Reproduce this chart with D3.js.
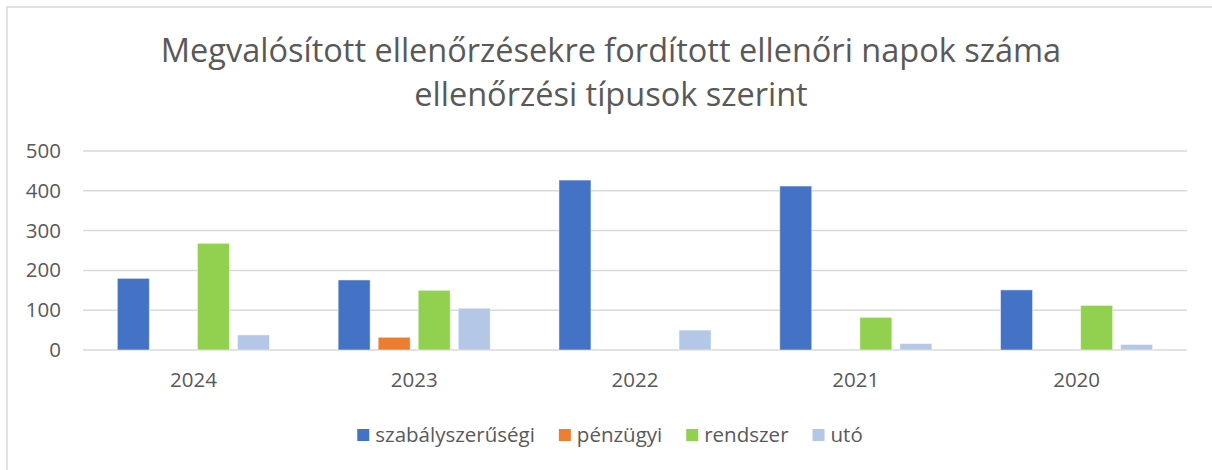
<!DOCTYPE html>
<html lang="hu">
<head>
<meta charset="utf-8">
<script src="https://cdn.jsdelivr.net/npm/d3@7"></script>
<style>
  html, body { margin: 0; padding: 0; background: #fff; }
  svg { display: block; font-family: "Open Sans", "Noto Sans", sans-serif; }
</style>
</head>
<body>
<svg id="chart" width="1212" height="470"></svg>
<script>
// Ellenőrzési napok típusonként, évenként
const years = ["2024", "2023", "2022", "2021", "2020"];
const seriesNames = ["szabályszerűségi", "pénzügyi", "rendszer", "utó"];
const szabalyszerusegi = [180, 176, 427, 412, 151];
const penzugyi = [0, 32, 0, 0, 0];
const rendszer = [268, 150, 0, 82, 112];
const uto = [38, 105, 50, 16, 14];
const yTicks = [0, 100, 200, 300, 400, 500];
const titleLines = [
  "Megvalósított ellenőrzésekre fordított ellenőri napok száma",
  "ellenőrzési típusok szerint"
];

const seriesValues = [szabalyszerusegi, penzugyi, rendszer, uto];
const colors = ["#4472C4", "#ED7D31", "#92D050", "#B4C7E7"];

const svg = d3.select("#chart");
const W = 1212, H = 470;
const margin = { left: 83, right: 25, top: 151, bottom: 120 };
const innerW = W - margin.left - margin.right;
const innerH = H - margin.top - margin.bottom;

// Chart area frame
svg.append("rect")
  .attr("x", 7).attr("y", 7)
  .attr("width", W + 10).attr("height", H + 10)
  .attr("fill", "#fff")
  .attr("stroke", "#d9d9d9").attr("stroke-width", 1.5);

// Title
const title = svg.append("g").attr("fill", "#595959")
  .attr("font-size", 32.5).attr("text-anchor", "middle");
titleLines.forEach((line, i) => {
  title.append("text")
    .attr("x", 611).attr("y", 62 + i * 44)
    .text(line);
});

const x0 = d3.scaleBand()
  .domain(years)
  .range([margin.left, margin.left + innerW])
  .paddingInner(0.311)
  .paddingOuter(0.1555);

const x1 = d3.scaleBand()
  .domain(seriesNames)
  .range([0, x0.bandwidth()])
  .paddingInner(0.2);

const y = d3.scaleLinear()
  .domain([0, 500])
  .range([margin.top + innerH, margin.top]);

// Gridlines
svg.append("g")
  .selectAll("line")
  .data(yTicks)
  .join("line")
  .attr("x1", margin.left).attr("x2", margin.left + innerW)
  .attr("y1", d => y(d)).attr("y2", d => y(d))
  .attr("stroke", "#d9d9d9").attr("stroke-width", 1.5);

// Y axis labels
const yAxis = d3.axisLeft(y).tickValues(yTicks).tickSize(0).tickPadding(0);
svg.append("g")
  .attr("transform", `translate(${margin.left - 22},0)`)
  .call(yAxis)
  .call(g => g.select(".domain").remove())
  .call(g => g.selectAll("text")
    .attr("fill", "#595959")
    .attr("font-size", 20.5)
    .attr("font-family", "\"Open Sans\", sans-serif"));

// Bars
const groups = svg.append("g")
  .selectAll("g")
  .data(years.map((yr, i) => ({
    year: yr,
    values: seriesNames.map((s, k) => ({ series: s, k, value: seriesValues[k][i] }))
  })))
  .join("g")
  .attr("transform", d => `translate(${x0(d.year)},0)`);

groups.selectAll("rect")
  .data(d => d.values.filter(v => v.value > 0))
  .join("rect")
  .attr("x", d => x1(d.series))
  .attr("width", x1.bandwidth())
  .attr("y", d => y(d.value))
  .attr("height", d => y(0) - y(d.value))
  .attr("fill", d => colors[d.k])
  .attr("stroke", "#fff").attr("stroke-opacity", 0.5).attr("stroke-width", 1);

// Category axis labels
const xAxis = d3.axisBottom(x0).tickSize(0).tickPadding(0);
svg.append("g")
  .attr("transform", `translate(0,${y(0) + 22})`)
  .call(xAxis)
  .call(g => g.select(".domain").remove())
  .call(g => g.selectAll("text")
    .attr("fill", "#595959")
    .attr("font-size", 20.5)
    .attr("font-family", "\"Open Sans\", sans-serif"));

// Legend
const legend = svg.append("g").attr("font-size", 20.5).attr("fill", "#595959");
const items = legend.selectAll("g")
  .data(seriesNames)
  .join("g");
items.append("rect")
  .attr("width", 12).attr("height", 12)
  .attr("y", 429)
  .attr("fill", (d, i) => colors[i]);
items.append("text")
  .attr("x", 18).attr("y", 442)
  .text(d => d);

const gap = 24;
let cursor = 0;
const offsets = [];
items.each(function () {
  const w = this.querySelector("text").getComputedTextLength();
  offsets.push(cursor);
  cursor += 18 + w + gap;
});
const totalW = cursor - gap;
const startX = 610 - totalW / 2;
items.attr("transform", (d, i) => `translate(${startX + offsets[i]},0)`);
</script>
</body>
</html>
